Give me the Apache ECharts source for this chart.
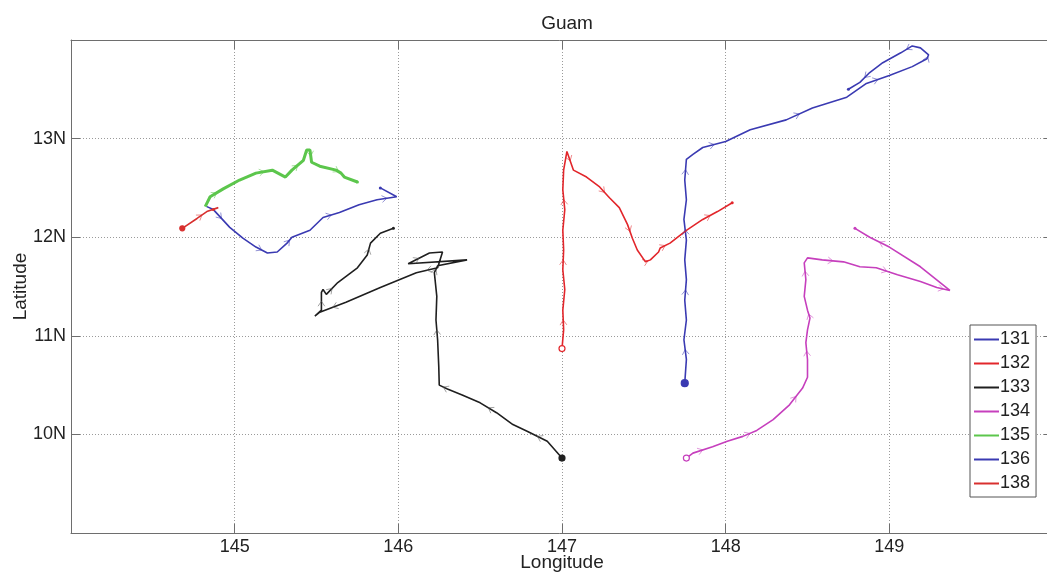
<!DOCTYPE html>
<html>
<head>
<meta charset="utf-8">
<title>Guam</title>
<script src="https://cdn.jsdelivr.net/npm/echarts@6/dist/echarts.min.js"></script>
<style>
  html, body { margin: 0; padding: 0; background: #fff; }
  #chart { width: 1047px; height: 576px; }
</style>
</head>
<body>
<div id="chart"></div>
<script>
// Drifter tracks near Guam, [longitude (E), latitude (N)] in travel order.
const track131 = [
  [147.75,10.52],[147.76,10.76],[147.745,10.96],[147.76,11.16],[147.75,11.36],[147.76,11.57],
  [147.75,11.77],[147.76,11.97],[147.745,12.18],[147.76,12.38],[147.75,12.58],[147.76,12.79],
  [147.80,12.84],[147.86,12.91],[148.00,12.97],[148.15,13.09],[148.37,13.19],[148.53,13.31],
  [148.74,13.42],[148.86,13.56],[149.00,13.64],[149.14,13.73],[149.23,13.81],[149.24,13.85],
  [149.19,13.92],[149.14,13.94],[149.07,13.87],[148.96,13.77],[148.88,13.67],[148.82,13.57],
  [148.75,13.50]
];
const track132 = [
  [147.00,10.87],[147.01,11.06],[147.005,11.26],[147.017,11.47],[147.005,11.67],[147.01,11.87],
  [147.005,12.07],[147.017,12.28],[147.005,12.48],[147.01,12.68],[147.03,12.87],[147.07,12.68],
  [147.15,12.61],[147.23,12.51],[147.29,12.40],[147.35,12.30],[147.40,12.13],[147.43,11.99],
  [147.46,11.87],[147.51,11.75],[147.54,11.77],[147.59,11.85],[147.60,11.89],[147.66,11.94],
  [147.76,12.07],[147.86,12.18],[147.95,12.26],[148.04,12.35]
];
const track133 = [
  [147.00,9.76],[146.91,9.93],[146.79,10.03],[146.70,10.10],[146.60,10.22],[146.50,10.32],
  [146.39,10.40],[146.30,10.46],[146.25,10.50],[146.247,10.69],[146.24,10.96],[146.23,11.16],
  [146.235,11.40],[146.22,11.64],[146.24,11.71],[146.42,11.77],[146.06,11.73],[146.19,11.84],
  [146.27,11.85],[146.24,11.69],[146.11,11.64],[145.89,11.49],[145.68,11.34],[145.52,11.24],
  [145.49,11.20],[145.53,11.26],[145.53,11.44],[145.54,11.47],[145.56,11.42],[145.63,11.54],
  [145.75,11.69],[145.81,11.82],[145.83,11.94],[145.89,12.04],[145.97,12.09]
];
const track134 = [
  [147.76,9.76],[147.80,9.81],[147.92,9.875],[148.01,9.93],[148.105,9.98],[148.19,10.04],
  [148.29,10.15],[148.39,10.30],[148.47,10.47],[148.50,10.58],[148.50,10.76],[148.49,10.93],
  [148.50,11.06],[148.515,11.18],[148.50,11.26],[148.48,11.40],[148.49,11.57],[148.48,11.74],
  [148.50,11.79],[148.59,11.77],[148.72,11.75],[148.82,11.70],[148.92,11.69],[149.05,11.62],
  [149.19,11.55],[149.29,11.49],[149.37,11.46],[149.19,11.70],[149.00,11.90],[148.88,12.00],
  [148.79,12.09]
];
const track135 = [
  [144.82,12.31],[144.85,12.41],[144.93,12.49],[145.03,12.58],[145.13,12.65],[145.23,12.68],
  [145.31,12.61],[145.35,12.68],[145.42,12.78],[145.44,12.885],[145.46,12.885],[145.47,12.76],
  [145.52,12.72],[145.62,12.68],[145.65,12.65],[145.67,12.61],[145.75,12.56]
];
const track136 = [
  [144.83,12.31],[144.87,12.28],[144.97,12.10],[145.05,11.99],[145.13,11.90],[145.20,11.84],
  [145.26,11.85],[145.32,11.94],[145.35,12.00],[145.46,12.07],[145.54,12.20],[145.64,12.25],
  [145.76,12.33],[145.87,12.38],[145.99,12.41],[145.89,12.50]
];
const track138 = [
  [144.68,12.09],[144.77,12.19],[144.83,12.26],[144.90,12.30],[144.87,12.28]
];

const trackNames = ['131', '132', '133', '134', '135', '136', '138'];
const tracks = [track131, track132, track133, track134, track135, track136, track138];
const colors = ['#3a3ab2', '#e2262b', '#1f1f1f', '#c63fbd', '#5cc64c', '#3a3ab2', '#d8302f'];
const widths = [1.6, 1.6, 1.6, 1.6, 3, 1.6, 1.6];
// start marker style per track: [filled?, size]
const startMarks = [[true, 7], [false, 6], [true, 6], [false, 6], [false, 0], [false, 0], [true, 5]];

const lonTicks = [145, 146, 147, 148, 149];
const latTicks = [10, 11, 12, 13];

const fontFamily = '"Liberation Sans", Arial, Helvetica, sans-serif';

// direction chevrons every few segments along each track
function arrowItems(track, step) {
  const out = [];
  for (let i = 1; i < track.length - 1; i += step) {
    out.push([track[i][0], track[i][1], track[i + 1][0], track[i + 1][1]]);
  }
  return out;
}

function chevronRenderer(color) {
  return function (params, api) {
    const p1 = api.coord([api.value(0), api.value(1)]);
    const p2 = api.coord([api.value(2), api.value(3)]);
    const mx = (p1[0] + p2[0]) / 2, my = (p1[1] + p2[1]) / 2;
    const ang = Math.atan2(p2[1] - p1[1], p2[0] - p1[0]);
    const s = 6, w = 0.6;
    return {
      type: 'polyline',
      shape: { points: [
        [mx - s * Math.cos(ang - w), my - s * Math.sin(ang - w)],
        [mx, my],
        [mx - s * Math.cos(ang + w), my - s * Math.sin(ang + w)]
      ] },
      style: { stroke: color, lineWidth: 1, fill: null, opacity: 0.55 }
    };
  };
}

const series = [];
tracks.forEach((t, k) => {
  const data = t.map((p, i) => {
    if (i === 0 && startMarks[k][1] > 0) {
      return {
        value: p, symbol: 'circle', symbolSize: startMarks[k][1],
        itemStyle: { color: startMarks[k][0] ? colors[k] : '#fff', borderColor: colors[k], borderWidth: 1.2 }
      };
    }
    if (i === t.length - 1) {
      return { value: p, symbol: 'circle', symbolSize: 3, itemStyle: { color: colors[k], borderWidth: 0 } };
    }
    return { value: p };
  });
  series.push({
    name: trackNames[k],
    type: 'line',
    data: data,
    symbol: 'none',
    showSymbol: true,
    smooth: false,
    color: colors[k],
    lineStyle: { color: colors[k], width: widths[k] },
    z: 3,
    animation: false
  });
  series.push({
    name: trackNames[k] + ' dir',
    type: 'custom',
    renderItem: chevronRenderer(k === 2 ? '#555' : colors[k]),
    data: arrowItems(t, 3),
    encode: { x: [0, 2], y: [1, 3] },
    silent: true,
    z: 4,
    animation: false
  });
});

const axisLineStyle = { color: '#6e6e6e', width: 1 };

const option = {
  backgroundColor: '#fff',
  animation: false,
  title: {
    text: 'Guam',
    left: 562, top: 9, textAlign: 'center',
    textStyle: { fontFamily, fontSize: 19, fontWeight: 'normal', color: '#222' }
  },
  legend: {
    orient: 'vertical',
    left: 970, top: 325,
    padding: [5, 6, 4, 4],
    backgroundColor: '#fff',
    borderColor: '#555', borderWidth: 1, borderRadius: 0,
    itemWidth: 25, itemHeight: 2, itemGap: 5,
    textStyle: { fontFamily, fontSize: 18, color: '#222', lineHeight: 19, padding: [0, 0, 0, -4] },
    data: trackNames.map((n, k) => ({ name: n, icon: 'rect', itemStyle: { color: colors[k] } }))
  },
  grid: { left: 71, right: -6, top: 40, bottom: 43, containLabel: false, outerBoundsMode: 'none' },
  xAxis: [{
    type: 'value', min: 144, max: 150, interval: 1,
    name: 'Longitude', nameLocation: 'middle', nameGap: 20, nameMoveOverlap: false,
    nameTextStyle: { fontFamily, fontSize: 19, color: '#222' },
    axisLine: { show: true, lineStyle: axisLineStyle },
    axisTick: { show: true, inside: true, length: 9, lineStyle: axisLineStyle },
    axisLabel: {
      fontFamily, fontSize: 18, color: '#222', margin: 5,
      formatter: v => lonTicks.indexOf(v) >= 0 ? String(v) : ''
    },
    splitLine: { show: true, lineStyle: { color: '#9a9a9a', type: [1, 2], width: 1 } }
  }, {
    type: 'value', min: 144, max: 150, interval: 1, position: 'top',
    axisLine: { show: true, lineStyle: axisLineStyle },
    axisTick: { show: true, inside: true, length: 9, lineStyle: axisLineStyle },
    axisLabel: { show: false }, splitLine: { show: false }
  }],
  yAxis: [{
    type: 'value', min: 9, max: 14, interval: 1,
    name: 'Latitude', nameLocation: 'middle', nameGap: 41, nameRotate: 90, nameMoveOverlap: false,
    nameTextStyle: { fontFamily, fontSize: 19, color: '#222' },
    axisLine: { show: true, lineStyle: axisLineStyle },
    axisTick: { show: true, inside: true, length: 9, lineStyle: axisLineStyle },
    axisLabel: {
      fontFamily, fontSize: 18, color: '#222', margin: 5,
      formatter: v => latTicks.indexOf(v) >= 0 ? v + 'N' : ''
    },
    splitLine: { show: true, lineStyle: { color: '#9a9a9a', type: [1, 2], width: 1 } }
  }, {
    type: 'value', min: 9, max: 14, interval: 1, position: 'right',
    axisLine: { show: true, lineStyle: axisLineStyle },
    axisTick: { show: true, inside: true, length: 9, lineStyle: axisLineStyle },
    axisLabel: { show: false }, splitLine: { show: false }
  }],
  series: series
};

const chart = echarts.init(document.getElementById('chart'), null, { renderer: 'canvas' });
chart.setOption(option);
</script>
</body>
</html>
